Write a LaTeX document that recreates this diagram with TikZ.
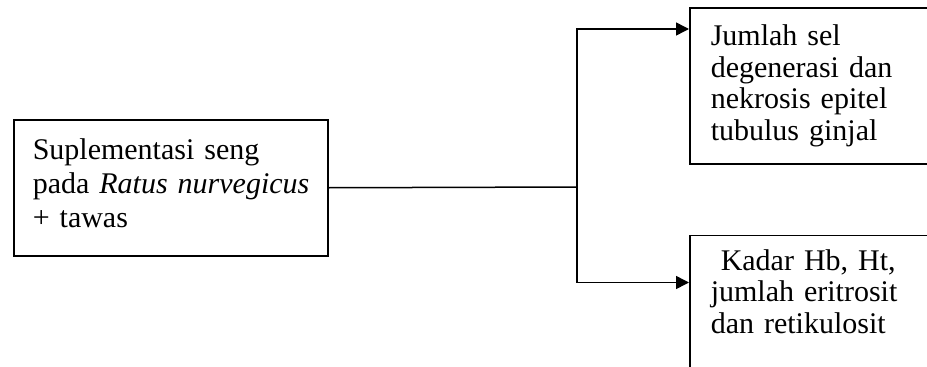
\documentclass[tikz,border=0pt]{standalone}
\usepackage{fontspec}
\setmainfont{Liberation Serif}
\usetikzlibrary{arrows.meta, positioning}

\begin{document}
\begin{tikzpicture}[
    x=1pt, y=1pt,
    every node/.style={font=\fontsize{30}{34}\selectfont},
    cause/.style={draw, line width=1.5pt, text width=276pt, inner xsep=19pt, inner ysep=0pt, align=left, text height=40pt, text depth=96pt},
    effect/.style={draw, line width=1.5pt, text width=240pt, inner xsep=21pt, inner ysep=0pt, align=left, font=\fontsize{30}{31.5}\selectfont},
    arrow/.style={-{Triangle[length=13pt, width=13pt]}, line width=1.5pt}
]
    \useasboundingbox (0,0) rectangle (927,-367);

    % Cause
    \node[cause, anchor=north west] (seng) at (13,-119) {Suplementasi seng\\\mbox{pada \textit{Ratus nurvegicus}}\\+ tawas};

    % Effects
    \node[effect, anchor=north west, text height=38pt, text depth=118pt] (sel) at (689,-7) {Jumlah sel\\degenerasi dan\\nekrosis epitel\\tubulus ginjal};
    \node[effect, below=70pt of sel.south west, anchor=north west, text height=35pt, text depth=121pt] (darah) {\ Kadar Hb, Ht,\\jumlah eritrosit\\dan retikulosit};

    % Arrows
    \coordinate (split) at (577,-187);
    \draw[line width=1.5pt] (seng.east) -- (split);
    \draw[arrow] (split) |- ([yshift=-22pt]sel.north west);
    \draw[arrow] (split) |- ([yshift=-48pt]darah.north west);
\end{tikzpicture}
\end{document}
